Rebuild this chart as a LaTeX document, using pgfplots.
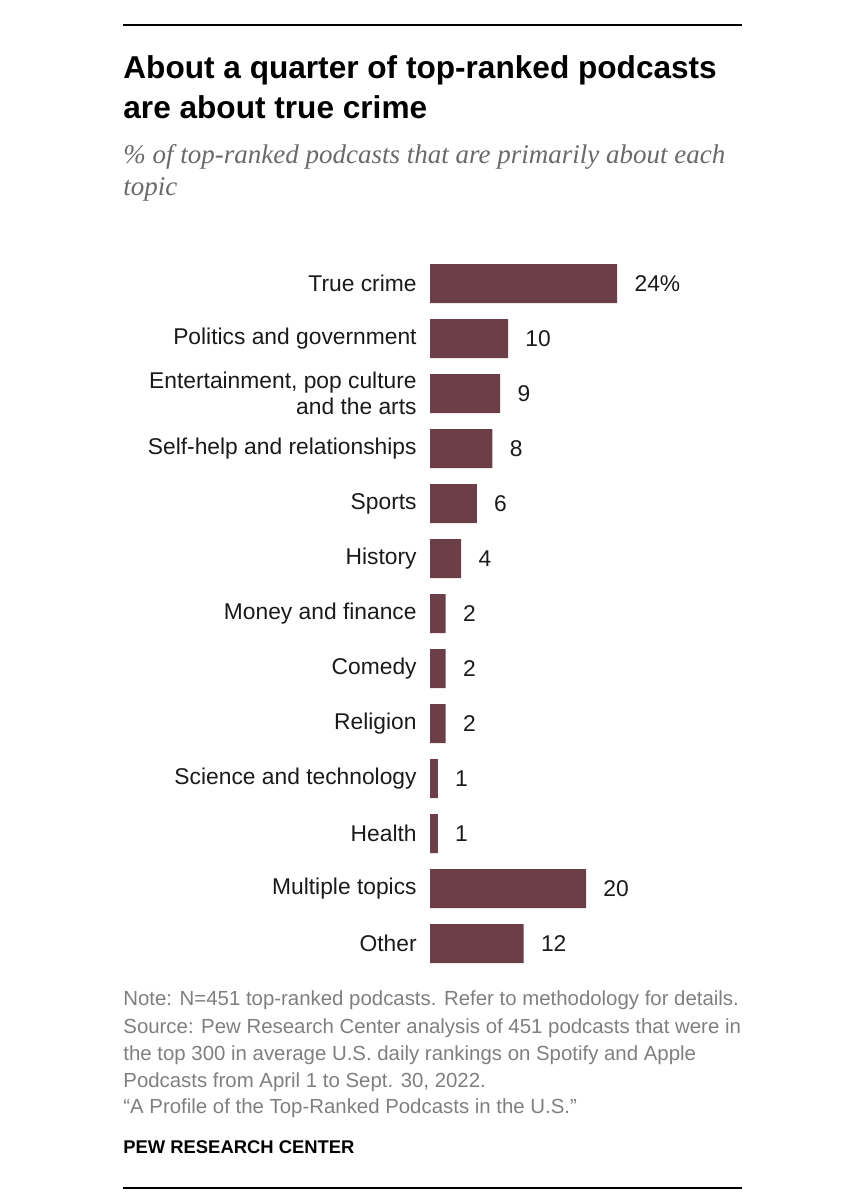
\documentclass[border=0pt]{standalone}
\usepackage{fontspec}
\setmainfont{Liberation Sans}
\newfontfamily\subfont{Liberation Serif}
\usepackage{pgfplots}
\pgfplotsset{compat=1.18}
\definecolor{barc}{HTML}{6C3E47}
\definecolor{notegray}{HTML}{7F7F7F}
\definecolor{subgray}{HTML}{6A6A6A}
\definecolor{txt}{HTML}{1A1A1A}
\begin{document}
\begin{tikzpicture}[x=1pt,y=1pt]
\useasboundingbox (0,0) rectangle (431.5,-600);
\draw[line width=1.1pt] (61.5,-12.5) -- (371,-12.5);
\node[anchor=base west, inner sep=0, font=\fontsize{15.8}{19}\selectfont\bfseries] at (61.5,-39) {About a quarter of top-ranked podcasts};
\node[anchor=base west, inner sep=0, font=\fontsize{15.8}{19}\selectfont\bfseries] at (61.5,-59) {are about true crime};
\node[anchor=base west, inner sep=0, text=subgray, font=\subfont\itshape\fontsize{13.5}{16}\selectfont] at (61.5,-81.5) {\% of top-ranked podcasts that are primarily about each};
\node[anchor=base west, inner sep=0, text=subgray, font=\subfont\itshape\fontsize{13.5}{16}\selectfont] at (61.5,-97.5) {topic};
\begin{axis}[
  at={(215pt,-128pt)}, anchor=north west,
  scale only axis, width=117pt, height=357.5pt,
  xmin=0, xmax=30, ymin=-0.5, ymax=12.5, y dir=reverse,
  clip=false,
  axis line style={draw=none},
  major tick length=0pt,
  xtick=\empty,
  ytick={0,1,2,3,4,5,6,7,8,9,10,11,12},
  yticklabels={True crime, Politics and government, {Entertainment, pop culture\\and the arts}, Self-help and relationships, Sports, History, Money and finance, Comedy, Religion, Science and technology, Health, Multiple topics, Other},
  yticklabel style={align=right, inner sep=0pt, xshift=-6.5pt, text=txt, font=\fontsize{11.4}{13.3}\selectfont},
  xbar, bar width=19.5pt,
  point meta=explicit symbolic,
  nodes near coords,
  every node near coord/.append style={anchor=west, inner sep=0pt, xshift=8.5pt, text=txt, font=\fontsize{11.4}{13.3}\selectfont},
]
\addplot[fill=barc, draw=none] coordinates {
 (24,0) [24\%]
 (10,1) [10]
 (9,2) [9]
 (8,3) [8]
 (6,4) [6]
 (4,5) [4]
 (2,6) [2]
 (2,7) [2]
 (2,8) [2]
 (1,9) [1]
 (1,10) [1]
 (20,11) [20]
 (12,12) [12]
};
\end{axis}
\begin{scope}[every node/.style={anchor=base west, inner sep=0, text=notegray, font=\fontsize{10.2}{13}\selectfont}]
\node at (61.5,-502.5) {Note: N=451 top-ranked podcasts. Refer to methodology for details.};
\node at (61.5,-516.5) {Source: Pew Research Center analysis of 451 podcasts that were in};
\node at (61.5,-530) {the top 300 in average U.S. daily rankings on Spotify and Apple};
\node at (61.5,-543.5) {Podcasts from April 1 to Sept. 30, 2022.};
\node at (61.5,-556.5) {“A Profile of the Top-Ranked Podcasts in the U.S.”};
\end{scope}
\node[anchor=base west, inner sep=0, font=\fontsize{9.2}{11}\selectfont\bfseries] at (61.5,-576.5) {PEW RESEARCH CENTER};
\draw[line width=1.1pt] (61.5,-594) -- (371,-594);
\end{tikzpicture}
\end{document}
